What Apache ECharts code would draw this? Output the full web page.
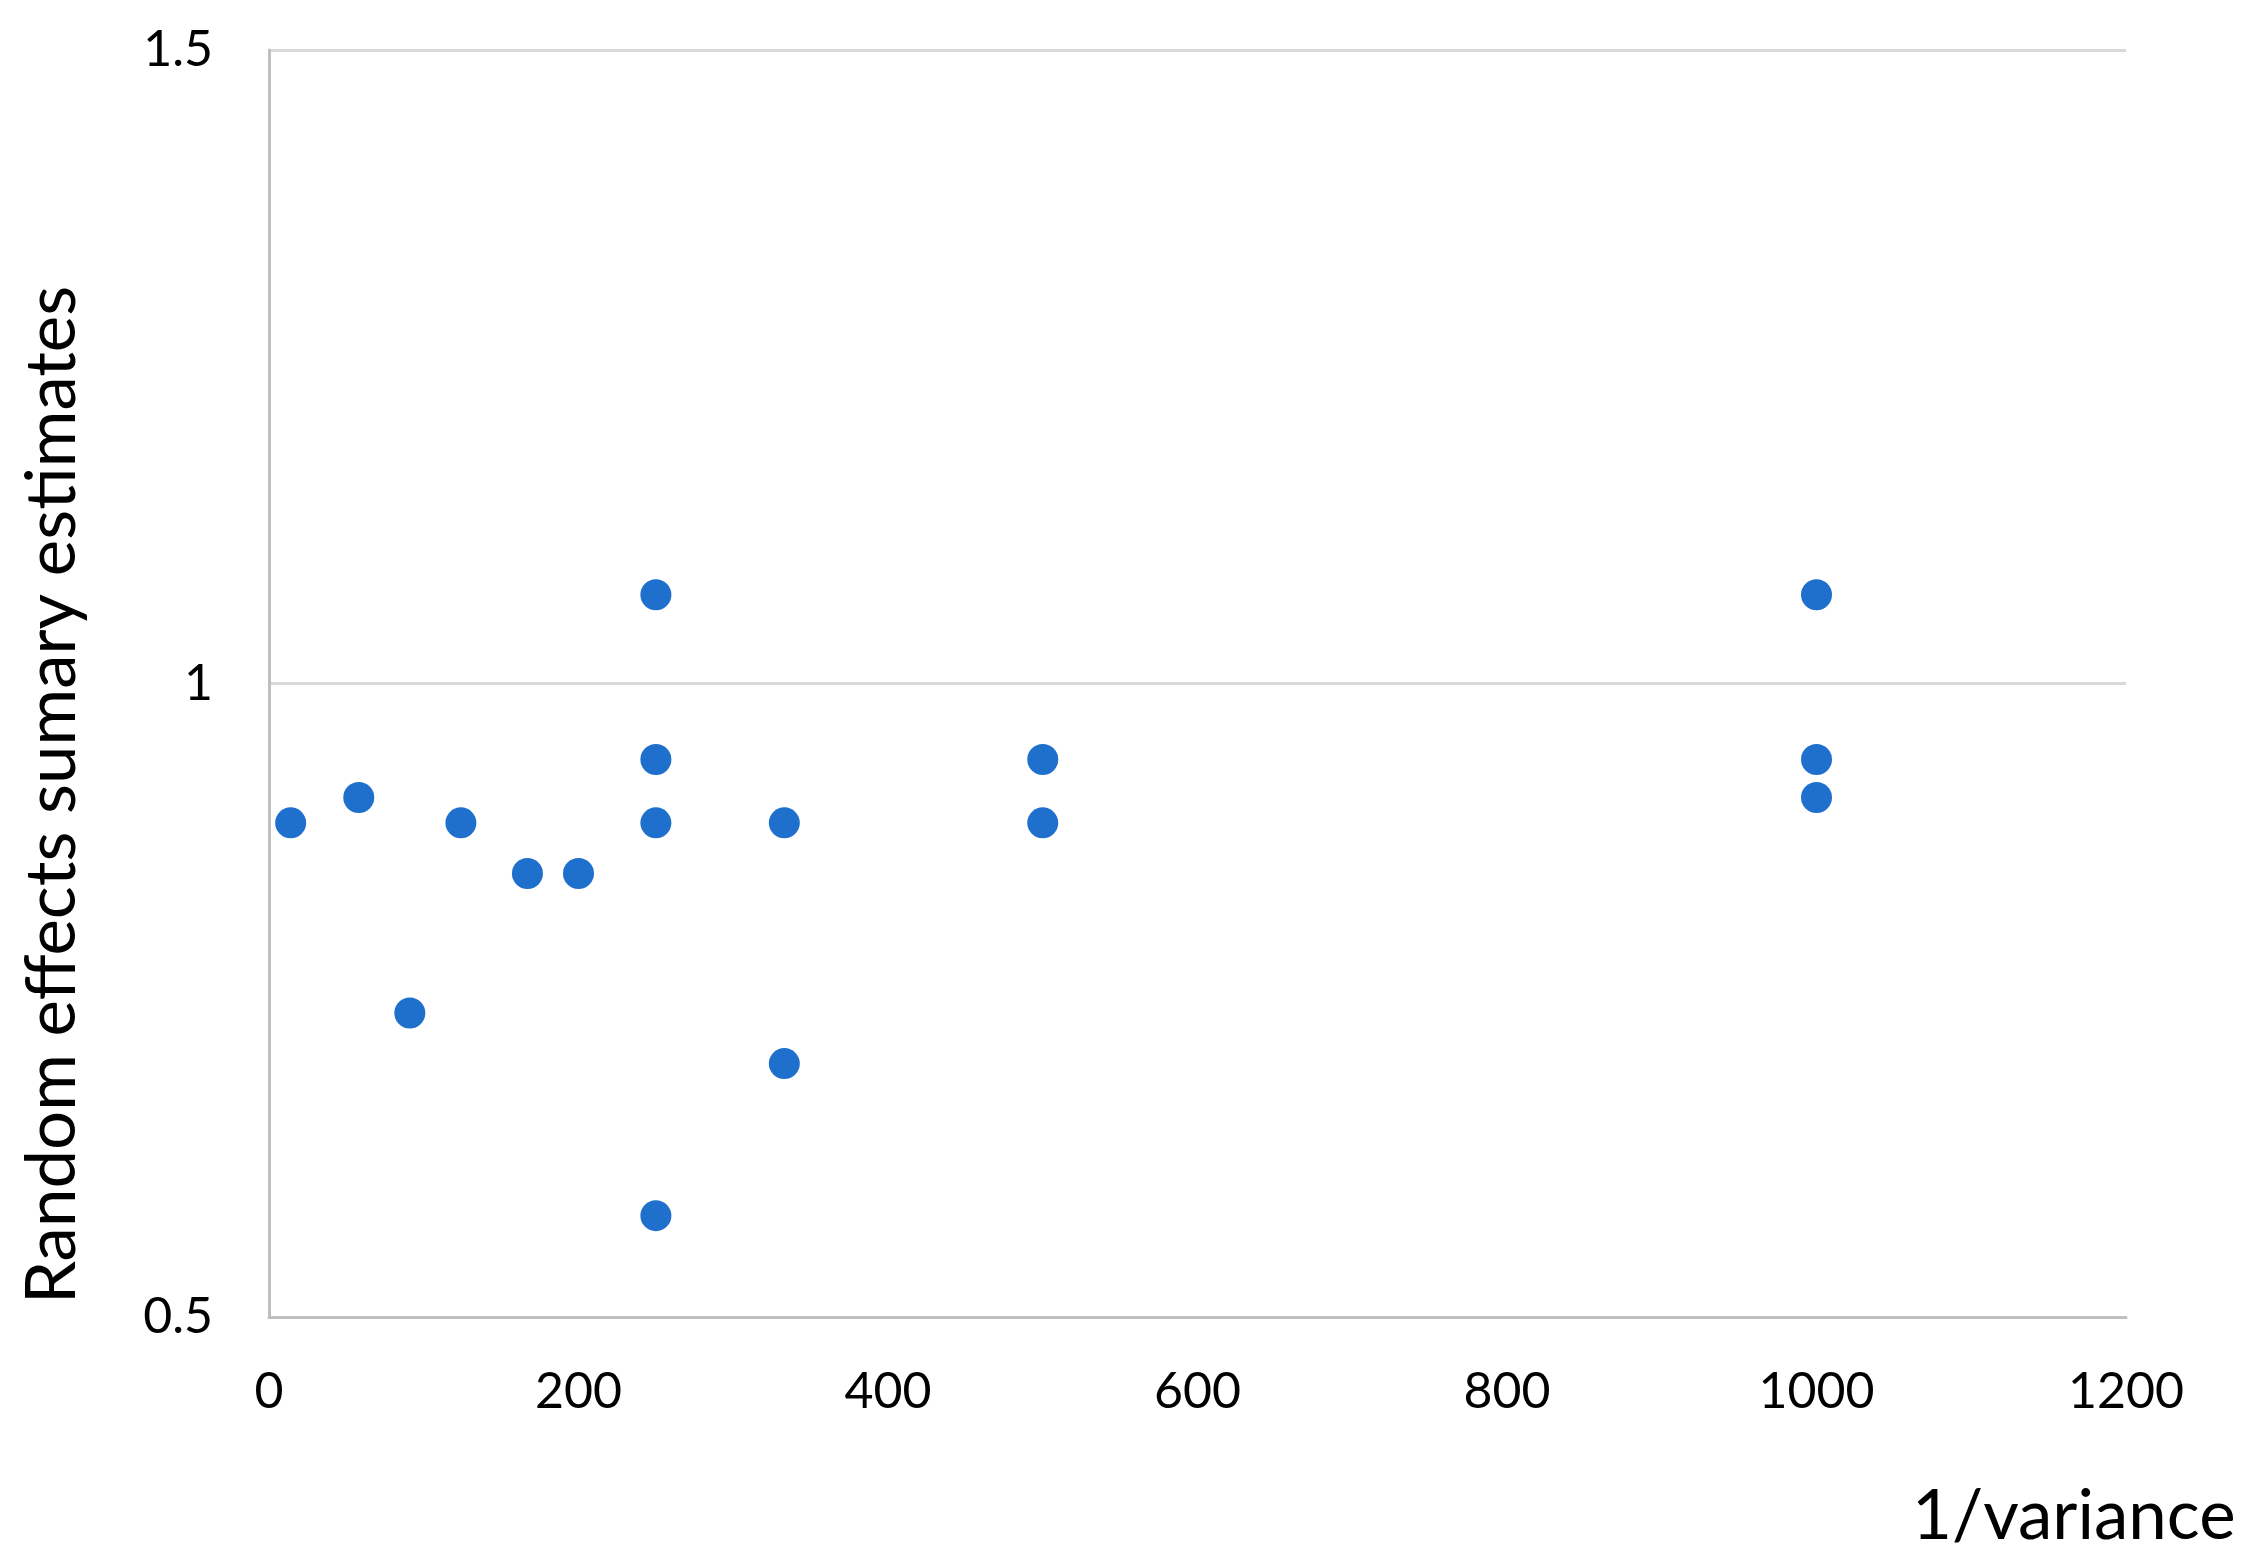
<!DOCTYPE html>
<html>
<head>
<meta charset="utf-8">
<script src="https://cdn.jsdelivr.net/npm/echarts@6/dist/echarts.min.js"></script>
<style>
html,body{margin:0;padding:0;background:#fff;}
#chart{width:2245px;height:1552px;}
</style>
</head>
<body>
<div id="chart"></div>
<script>
const inverseVariance = [14, 58, 91, 124, 167, 200, 250, 250, 250, 250, 333, 333, 500, 500, 1000, 1000, 1000];
const summaryEstimates = [0.89, 0.91, 0.74, 0.89, 0.85, 0.85, 1.07, 0.94, 0.89, 0.58, 0.89, 0.70, 0.94, 0.89, 1.07, 0.94, 0.91];
const xTitle = '1/variance';
const yTitle = 'Random effects sumary estimates';

const points = inverseVariance.map((x, i) => [x, summaryEstimates[i]]);
const FONT = 'Lato';

const chart = echarts.init(document.getElementById('chart'));
chart.setOption({
  animation: false,
  backgroundColor: '#ffffff',
  grid: { left: 269, right: 119, top: 50, bottom: 235, containLabel: false, outerBoundsMode: 'none' },
  xAxis: {
    type: 'value', min: 0, max: 1200, interval: 200,
    axisLine: { show: true, lineStyle: { color: '#bfbfbf', width: 3 } },
    axisTick: { show: false },
    splitLine: { show: false },
    axisLabel: { color: '#000', fontFamily: FONT, fontSize: 50, margin: 50, formatter: v => String(v) }
  },
  yAxis: {
    type: 'value', min: 0.5, max: 1.5, interval: 0.5,
    axisLine: { show: true, lineStyle: { color: '#bfbfbf', width: 3 } },
    axisTick: { show: false },
    splitLine: { show: true, lineStyle: { color: '#d9d9d9', width: 3 } },
    axisLabel: { color: '#000', fontFamily: FONT, fontSize: 50, margin: 56, formatter: v => String(v) }
  },
  graphic: [{
    type: 'text', left: 1912, top: 1482,
    style: { text: xTitle, fill: '#000', font: '69px Lato' }
  }, {
    type: 'text', x: 53, y: 795, rotation: Math.PI / 2,
    style: { text: yTitle, fill: '#000', font: '69px Lato', align: 'center', verticalAlign: 'middle' }
  }],
  series: [{
    type: 'scatter',
    data: points,
    symbol: 'circle',
    symbolSize: 31,
    itemStyle: { color: '#1f6fcc', opacity: 1 }
  }]
});
</script>
</body>
</html>
